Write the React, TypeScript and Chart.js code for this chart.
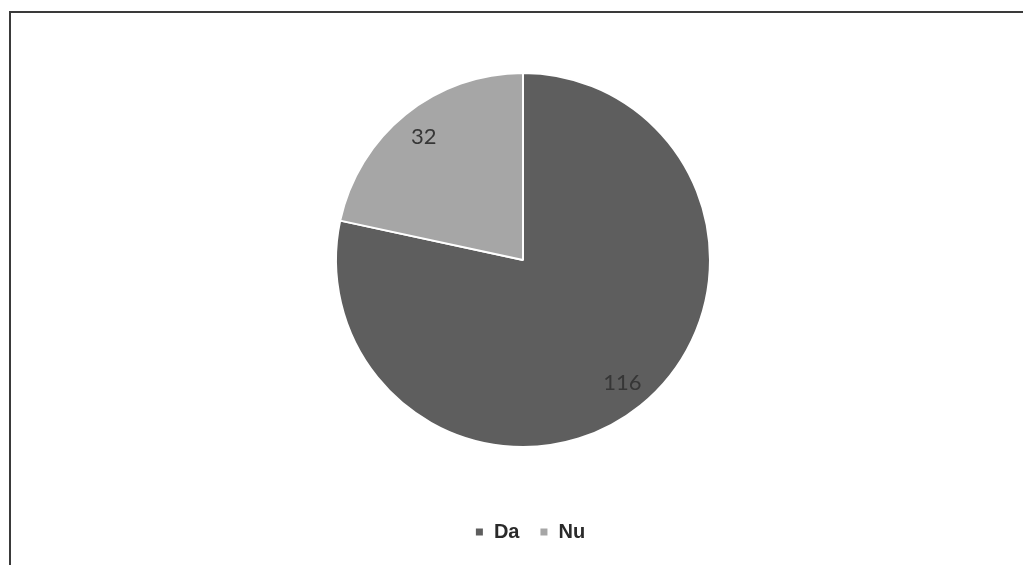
import React, { useEffect, useRef } from "react";
import { Chart, registerables } from "chart.js";

Chart.register(...registerables);

const categories: string[] = ["Da", "Nu"];
const values: number[] = [116, 32];
const sliceColors: string[] = ["#5e5e5e", "#a6a6a6"];

const sliceLabels = {
  id: "sliceLabels",
  afterDatasetsDraw(chart: any) {
    const meta = chart.getDatasetMeta(0);
    const ctx = chart.ctx;
    ctx.save();
    ctx.font = "22px Lato, 'Open Sans', sans-serif";
    ctx.fillStyle = "#363636";
    ctx.textAlign = "center";
    ctx.textBaseline = "middle";
    meta.data.forEach((arc: any, i: number) => {
      const { x, y, startAngle, endAngle, outerRadius } = arc.getProps(
        ["x", "y", "startAngle", "endAngle", "outerRadius"],
        true
      );
      const mid = (startAngle + endAngle) / 2;
      const r = outerRadius * 0.845;
      ctx.fillText(String(values[i]), x + Math.cos(mid) * r, y + Math.sin(mid) * r);
    });
    ctx.restore();
  },
};

const legendShift = {
  id: "legendShift",
  afterLayout(chart: any) {
    if (chart.legend) {
      chart.legend.left += 7;
      chart.legend.right += 7;
    }
  },
};

export default function App() {
  const canvasRef = useRef<HTMLCanvasElement | null>(null);

  useEffect(() => {
    if (!canvasRef.current) return;
    const chart = new Chart(canvasRef.current, {
      type: "pie",
      data: {
        labels: categories,
        datasets: [
          {
            data: values,
            backgroundColor: sliceColors,
            borderColor: "#ffffff",
            borderWidth: 2,
          },
        ],
      },
      options: {
        responsive: false,
        animation: false,
        devicePixelRatio: 1,
        radius: 187,
        layout: { padding: { top: 18, left: 23, right: 0, bottom: 13 } },
        plugins: {
          tooltip: { enabled: false },
          legend: {
            position: "bottom",
            labels: {
              boxWidth: 9,
              boxHeight: 9,
              padding: 20,
              color: "#2a2a2a",
              font: { family: "'Liberation Sans', Arial, sans-serif", size: 20, weight: "bold" },
            },
          },
        },
      } as any,
      plugins: [sliceLabels, legendShift],
    });
    return () => chart.destroy();
  }, []);

  return (
    <div
      style={{
        position: "fixed",
        left: 0,
        top: 0,
        width: 1023,
        height: 565,
        background: "#ffffff",
        overflow: "hidden",
      }}
    >
      <div
        style={{
          position: "absolute",
          left: 9,
          top: 11,
          width: 2000,
          height: 2000,
          borderLeft: "2px solid #3a3a3a",
          borderTop: "2px solid #3a3a3a",
        }}
      />
      <canvas
        ref={canvasRef}
        width={1023}
        height={565}
        style={{ position: "absolute", left: 0, top: 0, width: 1023, height: 565 }}
      />
    </div>
  );
}
